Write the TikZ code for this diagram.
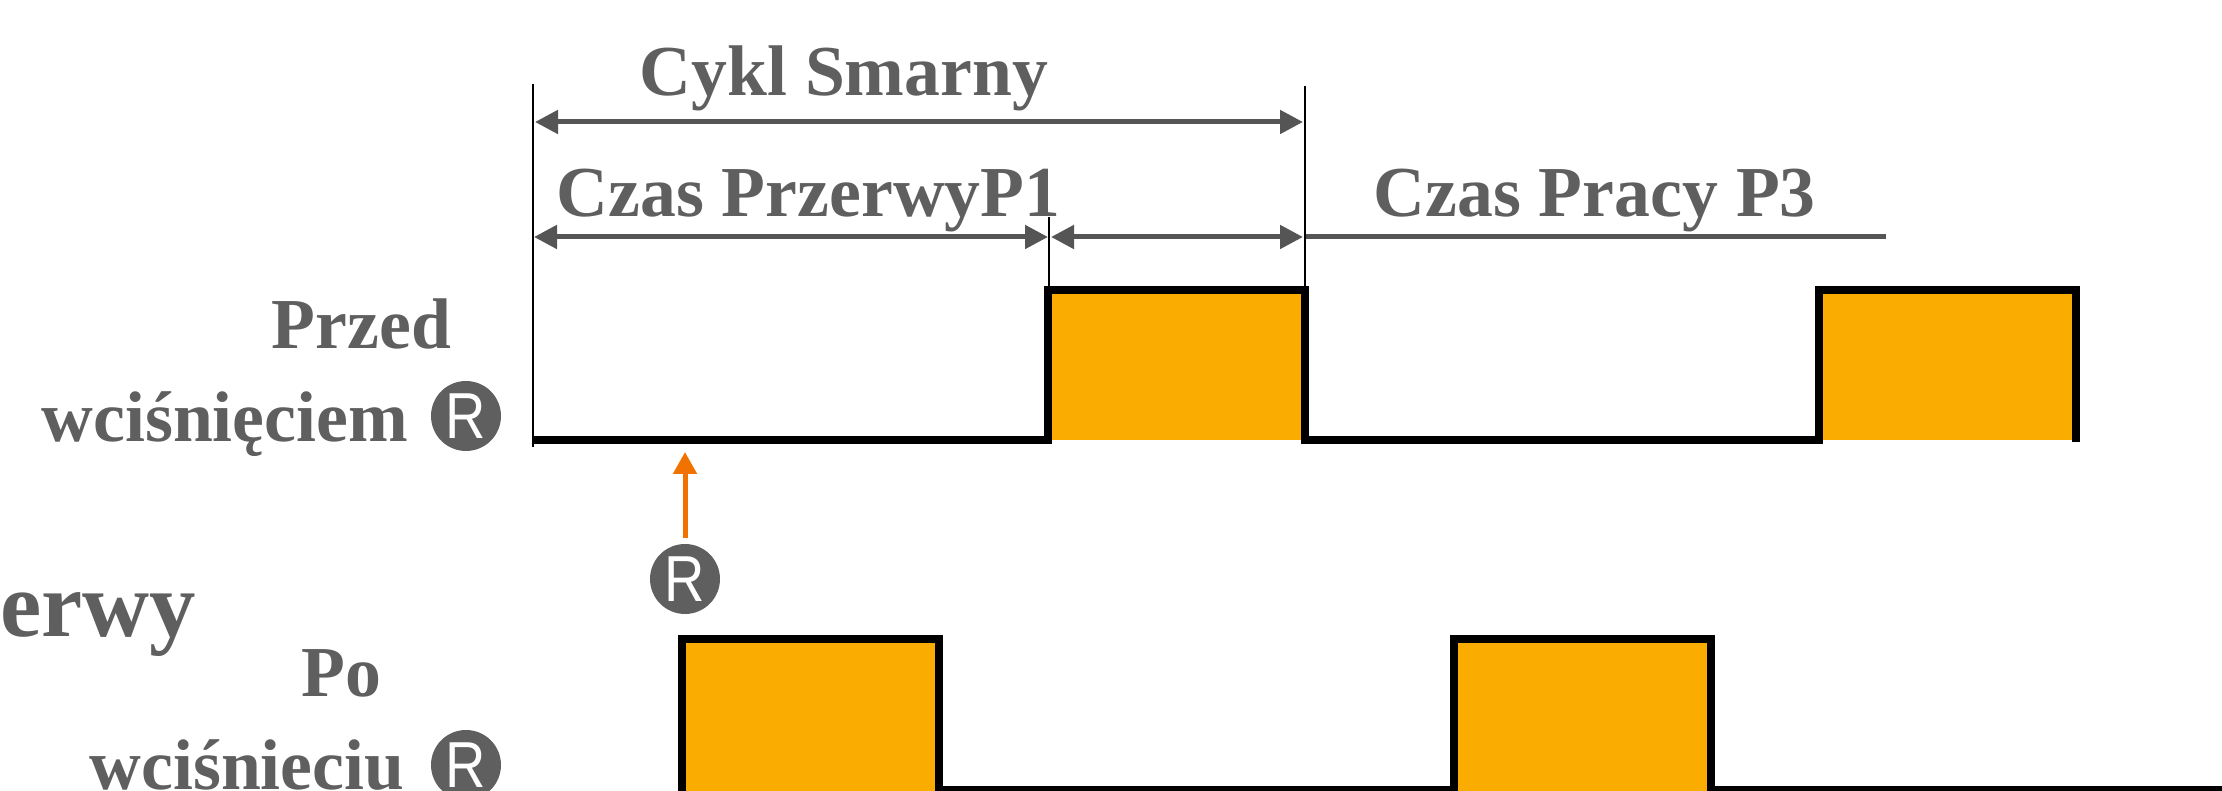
\documentclass[tikz,border=0pt]{standalone}
\usepackage{fontspec}
\setmainfont{Liberation Serif}
\newfontfamily\rfont{Liberation Sans}
\usetikzlibrary{arrows.meta}

\definecolor{textgray}{HTML}{5F5F5F}
\definecolor{arrowgray}{HTML}{555555}
\definecolor{pulse}{HTML}{FBAC00}
\definecolor{press}{HTML}{F27200}

\newcommand{\rmark}{\scalebox{0.86}[1]{R}}

\tikzset{
  lab/.style={inner sep=0,anchor=base west,text=textgray,font=\fontsize{20.4}{24}\selectfont\bfseries},
  rbtn/.style={circle,fill=textgray,text=white,inner sep=0,minimum size=0.7cm,font=\fontsize{18.5}{20}\selectfont\rfont},
  dim/.style={arrowgray,line width=0.05cm,{Triangle[length=0.23cm,width=0.23cm]}-{Triangle[length=0.23cm,width=0.23cm]}},
  tick/.style={black,line width=0.02cm},
  signal/.style={black,line width=0.08cm,miter limit=10}
}

\begin{document}
\begin{tikzpicture}

\useasboundingbox (0,0) rectangle (22.22,7.91);

\fill[pulse] (10.48,3.505) rectangle (13.05,5.01);
\fill[pulse] (18.19,3.505) rectangle (20.76,5.01);
\fill[pulse] (6.82,0) rectangle (9.39,1.52);
\fill[pulse] (14.54,0) rectangle (17.11,1.52);

\draw[signal] (5.33,3.505) -- (10.48,3.505) -- (10.48,5.01) -- (13.05,5.01) -- (13.05,3.505) -- (18.19,3.505) -- (18.19,5.01) -- (20.76,5.01) -- (20.76,3.485);
\draw[signal] (6.82,-0.1) -- (6.82,1.52) -- (9.39,1.52) -- (9.39,0.01) -- (14.54,0.01) -- (14.54,1.52) -- (17.11,1.52) -- (17.11,0.01) -- (22.3,0.01);

\coordinate (a1) at (5.33,7.07);
\coordinate (a2) at (5.33,3.44);
\coordinate (b1) at (13.05,7.05);
\coordinate (b2) at (13.05,5.01);
\coordinate (c1) at (10.49,5.74);
\coordinate (c2) at (10.49,5.01);

\draw[tick] (a1) -- (a2);
\draw[tick] (b1) -- (b2);
\draw[tick] (c1) -- (c2);

\coordinate (d1) at (5.35,6.69);
\coordinate (d2) at (13.03,6.69);
\coordinate (e1) at (5.34,5.54);
\coordinate (e2) at (10.48,5.54);
\coordinate (f1) at (10.51,5.54);
\coordinate (f2) at (13.03,5.54);
\coordinate (g1) at (13.06,5.54);
\coordinate (g2) at (18.86,5.54);

\draw[dim] (d1) -- (d2);
\draw[dim] (e1) -- (e2);
\draw[dim] (f1) -- (f2);
\draw[arrowgray,line width=0.05cm] (g1) -- (g2);

\node[lab] (cycle) at (6.39,6.95) {Cykl Smarny};
\node[lab] (pause) at (5.56,5.74) {Czas PrzerwyP1};
\node[lab] (work) at (13.73,5.74) {Czas Pracy P3};
\node[lab] (before) at (2.71,4.42) {Przed};
\node[lab] (beforeb) at (0.41,3.49) {wciśnięciem};
\node[lab] (after) at (3.01,0.94) {Po};
\node[lab] (afterb) at (0.89,0.01) {wciśnieciu};
\node[lab,anchor=base east,font=\fontsize{26.4}{30}\selectfont\bfseries] (title) at (1.97,1.54) {erwy};

\node[rbtn] (r1) at (4.66,3.75) {\rmark};
\node[rbtn] (r2) at (6.85,2.12) {\rmark};
\node[rbtn] (r3) at (4.66,0.26) {\rmark};

\coordinate (tip) at (6.85,3.39);
\draw[press,line width=0.05cm,shorten <=0.05cm,-{Triangle[length=0.22cm,width=0.23cm]}] (r2) -- (tip);

\end{tikzpicture}
\end{document}
